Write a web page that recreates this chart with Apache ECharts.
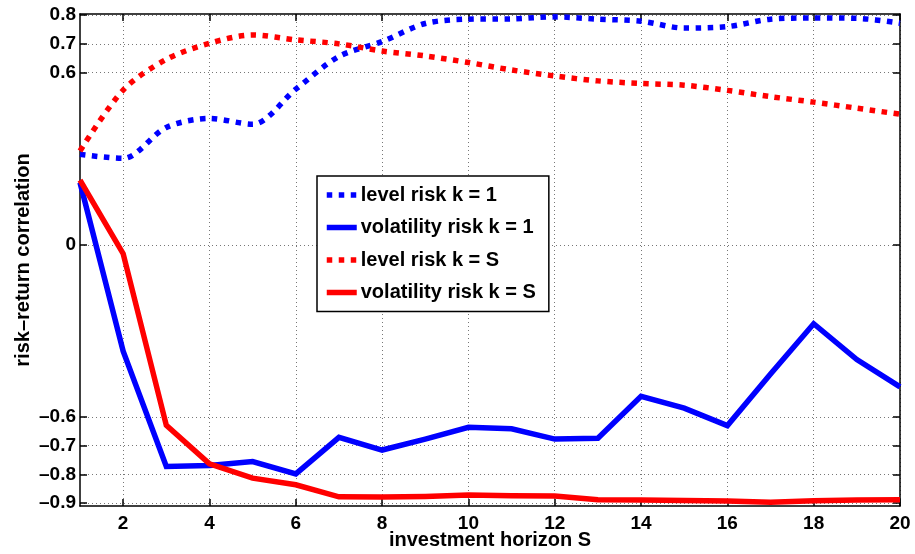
<!DOCTYPE html>
<html>
<head>
<meta charset="utf-8">
<script src="https://cdn.jsdelivr.net/npm/echarts@6/dist/echarts.min.js"></script>
<style>
  html, body { margin: 0; padding: 0; background: #fff; }
  #chart { width: 915px; height: 554px; }
</style>
</head>
<body>
<div id="chart"></div>
<script>
// Investment horizon S (x values)
const horizon = [1, 2, 3, 4, 5, 6, 7, 8, 9, 10, 11, 12, 13, 14, 15, 16, 17, 18, 19, 20];

// Risk-return correlations per horizon
const levelRiskK1 = [0.315, 0.301, 0.409, 0.440, 0.420, 0.542, 0.656, 0.708, 0.771, 0.786,
                     0.787, 0.794, 0.786, 0.779, 0.755, 0.760, 0.786, 0.790, 0.789, 0.772];
const volRiskK1   = [0.217, -0.371, -0.772, -0.769, -0.755, -0.798, -0.671, -0.715, -0.677, -0.636,
                     -0.641, -0.677, -0.674, -0.528, -0.569, -0.630, -0.450, -0.275, -0.400, -0.495];
const levelRiskKS = [0.327, 0.539, 0.646, 0.702, 0.731, 0.714, 0.700, 0.675, 0.658, 0.635,
                     0.609, 0.588, 0.571, 0.562, 0.556, 0.538, 0.516, 0.497, 0.476, 0.455];
const volRiskKS   = [0.225, -0.031, -0.629, -0.763, -0.813, -0.836, -0.878, -0.879, -0.877, -0.872,
                     -0.874, -0.875, -0.888, -0.889, -0.891, -0.893, -0.897, -0.892, -0.889, -0.888];

// Tick positions
const xTicks = [2, 4, 6, 8, 10, 12, 14, 16, 18, 20];
const yTicks = [-0.9, -0.8, -0.7, -0.6, 0, 0.6, 0.7, 0.8];

const seriesNames = ['level risk k = 1', 'volatility risk k = 1', 'level risk k = S', 'volatility risk k = S'];

const FONT = '"Liberation Sans", Arial, Helvetica, sans-serif';
const BLUE = '#0000ff';
const RED = '#ff0000';

const pairs = (ys) => horizon.map((x, i) => [x, ys[i]]);

const chart = echarts.init(document.getElementById('chart'), null, { renderer: 'canvas' });

const tickLabelStyle = { color: '#000', fontFamily: FONT, fontWeight: 'bold', fontSize: 19 };
const gridLine = { show: true, lineStyle: { color: '#777', type: [1, 3], width: 1 } };
const frameLine = { show: true, onZero: false, lineStyle: { color: '#000', width: 1.5 } };

function lineSeries(name, data, color, dotted) {
  return {
    name: name,
    type: 'line',
    data: pairs(data),
    symbol: 'none',
    smooth: dotted ? 0.3 : false,
    lineStyle: {
      color: color,
      width: 5.5,
      type: dotted ? [5.5, 6.5] : 'solid',
      cap: 'butt',
      join: 'miter'
    },
    itemStyle: { color: color },
    emphasis: { disabled: true },
    animation: false
  };
}

chart.setOption({
  animation: false,
  backgroundColor: '#fff',
  grid: { left: 80, right: 15, top: 14, bottom: 48, containLabel: false, outerBoundsMode: 'none' },
  legend: {
    show: true,
    orient: 'vertical',
    left: 317,
    top: 176,
    padding: [9, 13, 9, 7],
    itemGap: 12.5,
    itemWidth: 30,
    itemHeight: 20,
    backgroundColor: '#fff',
    borderColor: '#000',
    borderWidth: 1.5,
    borderRadius: 0,
    selectedMode: false,
    data: seriesNames,
    textStyle: { color: '#000', fontFamily: FONT, fontWeight: 'bold', fontSize: 20, padding: [0, 0, 0, -1] },
    itemStyle: { opacity: 0 },
    lineStyle: { width: 5.5, type: 'inherit', cap: 'butt' }
  },
  xAxis: [
    {
      type: 'value',
      min: 1,
      max: 20,
      position: 'bottom',
      name: 'investment horizon S',
      nameLocation: 'middle',
      nameGap: 24,
      nameMoveOverlap: false,
      nameTextStyle: { color: '#000', fontFamily: FONT, fontWeight: 'bold', fontSize: 20 },
      axisLine: frameLine,
      axisTick: { show: true, inside: true, length: 7, customValues: xTicks, lineStyle: { color: '#000', width: 1.5 } },
      axisLabel: Object.assign({ show: true, margin: 8, customValues: xTicks }, tickLabelStyle),
      splitLine: gridLine
    },
    {
      type: 'value',
      min: 1,
      max: 20,
      position: 'top',
      axisLine: frameLine,
      axisTick: { show: true, inside: true, length: 7, customValues: xTicks, lineStyle: { color: '#000', width: 1.5 } },
      axisLabel: { show: false },
      splitLine: { show: false }
    }
  ],
  yAxis: [
    {
      type: 'value',
      min: -0.91,
      max: 0.804,
      position: 'left',
      name: 'risk\u2013return correlation',
      nameLocation: 'middle',
      nameGap: 47,
      nameMoveOverlap: false,
      nameRotate: 90,
      nameTextStyle: { color: '#000', fontFamily: FONT, fontWeight: 'bold', fontSize: 20 },
      axisLine: frameLine,
      axisTick: { show: true, inside: true, length: 7, customValues: yTicks, lineStyle: { color: '#000', width: 1.5 } },
      axisLabel: Object.assign({
        show: true,
        margin: 4,
        customValues: yTicks,
        formatter: (v) => {
          const r = Math.round(v * 10) / 10;
          if (r === 0) return '0';
          return (r < 0 ? '\u2013' : '') + Math.abs(r).toFixed(1);
        }
      }, tickLabelStyle),
      splitLine: gridLine
    },
    {
      type: 'value',
      min: -0.91,
      max: 0.804,
      position: 'right',
      axisLine: frameLine,
      axisTick: { show: true, inside: true, length: 7, customValues: yTicks, lineStyle: { color: '#000', width: 1.5 } },
      axisLabel: { show: false },
      splitLine: { show: false }
    }
  ],
  series: [
    lineSeries(seriesNames[0], levelRiskK1, BLUE, true),
    lineSeries(seriesNames[1], volRiskK1, BLUE, false),
    lineSeries(seriesNames[2], levelRiskKS, RED, true),
    lineSeries(seriesNames[3], volRiskKS, RED, false)
  ]
});
</script>
</body>
</html>
